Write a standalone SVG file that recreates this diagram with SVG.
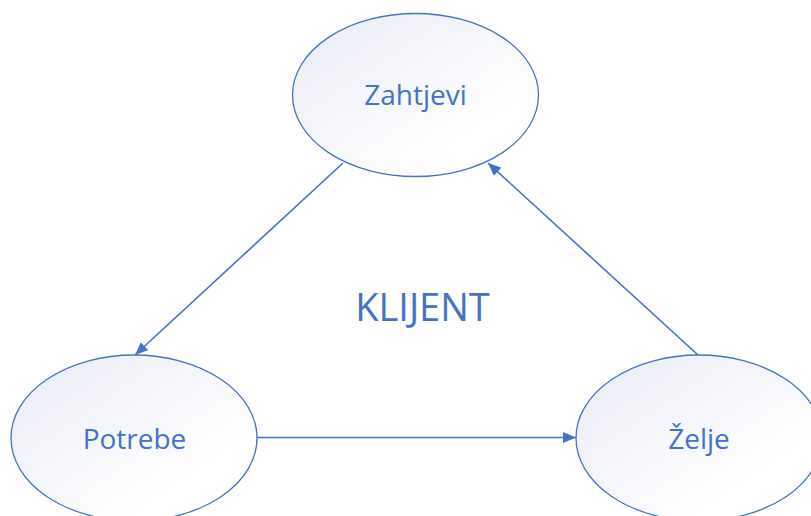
<svg xmlns="http://www.w3.org/2000/svg" width="811" height="516" viewBox="0 0 811 516">
<defs>
<linearGradient id="g" x1="0" y1="0" x2="1" y2="1">
<stop offset="0" stop-color="#e9ebf5"/>
<stop offset="0.75" stop-color="#ffffff"/>
</linearGradient>
<marker id="ah" markerUnits="userSpaceOnUse" markerWidth="14" markerHeight="12" refX="13" refY="5.5" orient="auto">
<path d="M0,0 L13,5.5 L0,11 z" fill="#4472C4"/>
</marker>
<style>
.n{fill:url(#g);stroke:#4472C4;stroke-width:1.3}
.t{font-family:"Open Sans","Noto Sans",sans-serif;fill:#4472C4;text-anchor:middle}
.c{stroke:#4472C4;stroke-width:1.6;fill:none;marker-end:url(#ah)}
</style>
</defs>
<rect width="811" height="516" fill="#ffffff"/>
<g id="connectors">
<line class="c" x1="343" y1="163" x2="135" y2="355"/>
<line class="c" x1="698" y1="355" x2="488" y2="163"/>
<line class="c" x1="257" y1="437.5" x2="576" y2="437.5"/>
</g>
<g id="zahtjevi">
<ellipse class="n" cx="415.5" cy="95" rx="123" ry="81.5"/>
<text class="t" x="415.5" y="105" font-size="28">Zahtjevi</text>
</g>
<g id="potrebe">
<ellipse class="n" cx="134" cy="438" rx="123" ry="83"/>
<text class="t" x="134.5" y="449" font-size="28">Potrebe</text>
</g>
<g id="zelje">
<ellipse class="n" cx="699" cy="438" rx="123" ry="83"/>
<text class="t" x="699" y="449" font-size="28">Želje</text>
</g>
<g id="klijent">
<text class="t" x="422.5" y="321" font-size="38">KLIJENT</text>
</g>
</svg>
